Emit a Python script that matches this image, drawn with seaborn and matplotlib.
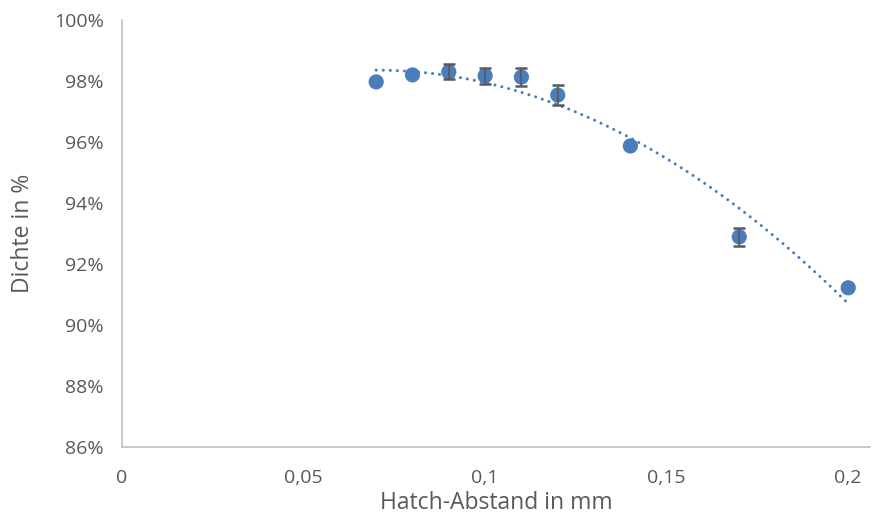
import numpy as np
import pandas as pd
import matplotlib
matplotlib.use("Agg")
import matplotlib.pyplot as plt
import seaborn as sns
from matplotlib.ticker import FuncFormatter, FixedLocator

hatch = [0.07, 0.08, 0.09, 0.10, 0.11, 0.12, 0.14, 0.17, 0.20]
density = [97.97, 98.20, 98.30, 98.17, 98.13, 97.54, 95.87, 92.89, 91.22]
err = [0.0, 0.0, 0.25, 0.27, 0.31, 0.33, 0.0, 0.29, 0.0]
x_ticks = [0, 0.05, 0.1, 0.15, 0.2]
x_tick_labels = ["0", "0,05", "0,1", "0,15", "0,2"]
y_ticks = [86, 88, 90, 92, 94, 96, 98, 100]

df = pd.DataFrame({"hatch": hatch, "density": density, "err": err})

sns.set_theme(style="white")
plt.rcParams['font.family'] = ['Open Sans', 'DejaVu Sans']

fig = plt.figure(figsize=(8.72, 5.15), dpi=100)
ax = fig.add_axes([122/872, 1-447/515, (870-122)/872, (447-20)/515])

blue = "#4A7EBB"
gray_txt = "#595959"

# polynomial trendline (order 2)
coef = np.polyfit(df["hatch"], df["density"], 2)
xs = np.linspace(min(hatch), max(hatch), 200)
trend = pd.DataFrame({"hatch": xs, "density": np.polyval(coef, xs)})
sns.lineplot(data=trend, x="hatch", y="density", ax=ax, color=blue,
             linewidth=2.2, zorder=2)
ax.lines[-1].set_linestyle((0, (0.01, 2.3)))
ax.lines[-1].set_dash_capstyle("round")

sns.scatterplot(data=df, x="hatch", y="density", ax=ax, color=blue,
                s=120, edgecolor="none", zorder=3)

e = df[df["err"] > 0]
ax.errorbar(e["hatch"], e["density"], yerr=e["err"], fmt="none",
            ecolor="#595959", elinewidth=1.2, capsize=4.5, capthick=1.8, zorder=4)

ax.set_xlim(0, 0.206)
ax.set_ylim(86, 100)
ax.set_xticks(x_ticks, labels=x_tick_labels)
ax.yaxis.set_major_locator(FixedLocator(y_ticks))
ax.yaxis.set_major_formatter(FuncFormatter(lambda v, p: f"{int(round(v))}%"))

for s in ["top", "right"]:
    ax.spines[s].set_visible(False)
for s in ["left", "bottom"]:
    ax.spines[s].set_color("#BFBFBF")
    ax.spines[s].set_linewidth(1.2)
ax.tick_params(axis="both", which="major", direction="out", length=5, width=1.2,
               color="#BFBFBF", labelcolor=gray_txt, labelsize=14, pad=8)
ax.tick_params(axis="x", pad=11)

ax.set_xlabel("Hatch-Abstand in mm", fontsize=16.5, color=gray_txt)
ax.set_ylabel("Dichte in %", fontsize=16.5, color=gray_txt)
ax.xaxis.set_label_coords(0.5, (447-503)/427)
ax.xaxis.label.set_va("center")
ax.yaxis.set_label_coords((23-122)/748, 0.5)
ax.yaxis.label.set_va("center")

fig.savefig("out.png", dpi=100)
